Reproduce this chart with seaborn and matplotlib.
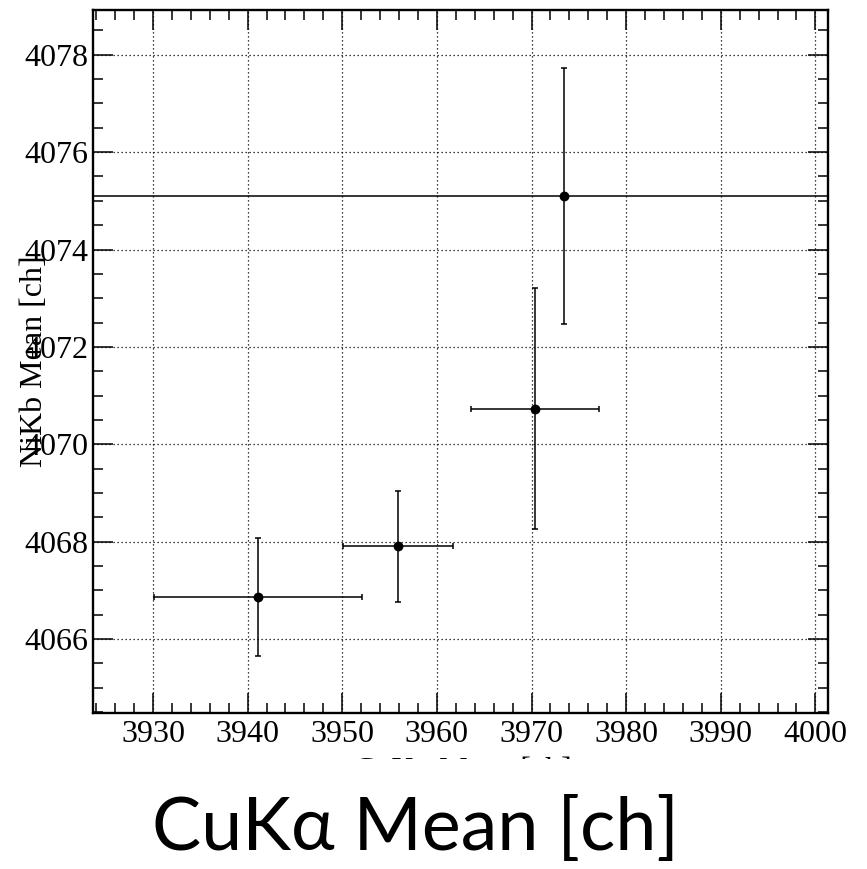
import matplotlib
matplotlib.use("Agg")
import matplotlib.pyplot as plt
from matplotlib.patches import Rectangle
from matplotlib.ticker import MultipleLocator
import numpy as np
import pandas as pd
import seaborn as sns

# Peak positions (channel means) with their uncertainties
cuka_mean = [3941.1, 3955.87, 3970.41, 3973.4]
cuka_err = [10.95, 5.84, 6.76, 0.0]
nikb_mean = [4066.86, 4067.91, 4070.73, 4075.09]
nikb_err = [1.21, 1.14, 2.47, 2.63]
# Constant fit level
fit_level = 4075.09

x_ticks = [3930, 3940, 3950, 3960, 3970, 3980, 3990, 4000]
y_ticks = [4066, 4068, 4070, 4072, 4074, 4076, 4078]

df = pd.DataFrame({"cuka": cuka_mean, "cuka_err": cuka_err,
                   "nikb": nikb_mean, "nikb_err": nikb_err})

sns.set_theme(style="white")
serif = ["Liberation Serif", "DejaVu Serif"]
plt.rcParams["font.family"] = serif
plt.rcParams["text.color"] = "black"

W, H, DPI = 867, 869, 100
fig = plt.figure(figsize=(W / DPI, H / DPI), dpi=DPI)
ax = fig.add_axes([93 / W, 1 - 713 / H, (828 - 93) / W, (713 - 9.5) / H])

ax.set_xlim(3923.66, 4001.33)
ax.set_ylim(4064.48, 4078.93)

# Dotted grid at the major ticks
ax.set_xticks(x_ticks)
ax.set_yticks(y_ticks)
ax.xaxis.set_minor_locator(MultipleLocator(2))
ax.yaxis.set_minor_locator(MultipleLocator(0.5))
ax.grid(True, which="major", color="black", linestyle=(0, (1, 2.2)), linewidth=0.9)

ax.axhline(fit_level, color="black", linewidth=1.1, zorder=3)

ax.errorbar(df["cuka"], df["nikb"], xerr=df["cuka_err"], yerr=df["nikb_err"],
            fmt="none", ecolor="black", elinewidth=1.1, capsize=2.3, capthick=1.1,
            zorder=4)
sns.scatterplot(data=df, x="cuka", y="nikb", ax=ax, color="black", s=50,
                edgecolor="black", linewidth=0, zorder=5, legend=False)

for side in ["left", "right", "top", "bottom"]:
    ax.spines[side].set_visible(True)
    ax.spines[side].set_color("black")
    ax.spines[side].set_linewidth(1.7)

ax.tick_params(which="major", direction="in", length=14.5, width=1.1,
               top=True, right=True, bottom=True, left=True,
               labelsize=23, colors="black")
ax.tick_params(which="minor", direction="in", length=7.5, width=1.1,
               top=True, right=True, bottom=True, left=True, colors="black")
ax.tick_params(axis="x", which="major", pad=5)
ax.tick_params(axis="y", which="major", pad=3)
for lab in ax.get_xticklabels() + ax.get_yticklabels():
    lab.set_fontfamily(serif)
    lab.set_color("black")

ax.set_xlabel("")
ax.set_ylabel("")

# Small serif axis titles
fig.text(35 / W, 1 - 361 / H, "NiKb Mean [ch]", rotation=90, ha="center",
         va="center", fontsize=23, family=serif, color="black", zorder=1)
fig.text(463 / W, 1 - 757 / H, "CuKα Mean [ch]", ha="center", va="top",
         fontsize=23, family=serif, color="black", zorder=1)

# White panel under the axes holding the large title
fig.patches.append(Rectangle((0, 0), 1, 1 - 759 / H, transform=fig.transFigure,
                             facecolor="white", edgecolor="none", zorder=2))
fig.text(416 / W, 1 - 850 / H, "CuKα Mean [ch]", ha="center", va="baseline",
         fontsize=53, family=["Lato", "Open Sans", "DejaVu Sans"],
         color="black", zorder=3)

fig.savefig("out.png", dpi=DPI, facecolor="white")
